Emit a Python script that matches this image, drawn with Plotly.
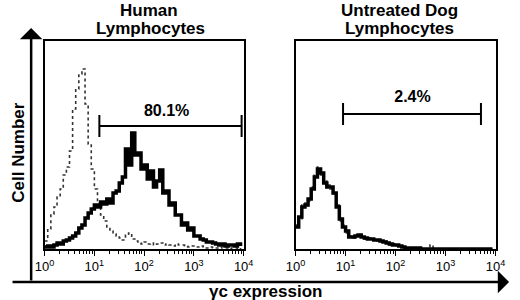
import numpy as np
import plotly.graph_objects as go

# channel counts per bin, 64 bins over four log decades
human_gc = [2, 3, 2, 4, 6, 5, 8, 9, 11, 13,
            16, 21, 24, 31, 36, 40, 44, 42, 47, 45,
            50, 46, 56, 58, 66, 72, 100, 84, 116, 94,
            96, 80, 84, 70, 78, 62, 68, 79, 56, 58,
            44, 46, 34, 34, 24, 26, 19, 21, 13, 13,
            10, 9, 7, 7, 6, 5, 4, 5, 3, 4,
            4, 3, 5, 3]
human_ctrl = [8, 20, 35, 42, 52, 60, 74, 82, 98, 140,
              160, 175, 180, 145, 105, 80, 60, 46, 34, 28,
              22, 18, 15, 13, 11, 9, 14, 16, 10, 8,
              6, 5, 7, 5, 6, 4, 5, 6, 4, 5,
              4, 3, 5, 4, 4, 3, 2, 3, 2, 2,
              3, 2, 1, 2, 1, 1, 2, 1, 1, 0,
              1, 1, 0, 1]
dog_gc = [22, 32, 42, 44, 50, 60, 72, 80, 76, 66,
          62, 62, 56, 42, 30, 22, 18, 12, 12, 13,
          14, 12, 11, 10, 10, 9, 9, 8, 7, 6,
          5, 4, 4, 3, 2, 1, 1, 1, 0, 1,
          0, 0, 0, 0, 0, 0, 0, 0, 0, 0,
          0, 0, 0, 0, 0, 0, 0, 0, 0, 0,
          0, 0, 0, 0]
dog_ctrl = [24, 30, 44, 46, 48, 62, 74, 82, 74, 68,
            64, 60, 54, 44, 28, 24, 16, 13, 11, 14,
            13, 12, 10, 11, 9, 10, 8, 7, 8, 5,
            4, 5, 3, 2, 3, 1, 1, 0, 1, 0,
            0, 0, 0, 4, 0, 0, 0, 0, 0, 0,
            0, 0, 0, 0, 0, 0, 0, 0, 0, 0,
            0, 0, 0, 0]

channels = 10 ** (np.arange(64) / 16)

human_gate = [12.6, 9100]
dog_gate = [8.9, 5100]
human_pct = "80.1%"
dog_pct = "2.4%"
human_label_x = 283
dog_label_x = 218

tick_vals = [1, 10, 100, 1000, 10000]
tick_text = ["10<sup>0</sup>", "10<sup>1</sup>", "10<sup>2</sup>", "10<sup>3</sup>", "10<sup>4</sup>"]
minor_vals = [m * 10 ** d for d in range(4) for m in range(2, 10)]

FONT = "Liberation Sans, Arial, sans-serif"

fig = go.Figure()


def add_panel(xa, ya, gc, ctrl, gate, pct, label_x, gate_y, label_y):
    fig.add_trace(go.Scatter(x=channels, y=ctrl, mode="lines", line_shape="hv",
                             line=dict(color="#333", width=1.6, dash="dot"),
                             xaxis=xa, yaxis=ya, showlegend=False))
    fig.add_trace(go.Scatter(x=channels, y=gc, mode="lines", line_shape="hv",
                             line=dict(color="black", width=3.5),
                             xaxis=xa, yaxis=ya, showlegend=False))
    # gate bar with end caps
    fig.add_trace(go.Scatter(
        x=[gate[0], gate[0], None, gate[0], gate[1], None, gate[1], gate[1]],
        y=[gate_y - 11, gate_y + 11, None, gate_y, gate_y, None, gate_y - 11, gate_y + 11],
        mode="lines", line=dict(color="black", width=2),
        xaxis=xa, yaxis=ya, showlegend=False))
    fig.add_trace(go.Scatter(x=[label_x], y=[label_y], mode="text", text=["<b>%s</b>" % pct],
                             textfont=dict(family=FONT, size=16, color="black"),
                             xaxis=xa, yaxis=ya, showlegend=False))


add_panel("x", "y", human_gc, human_ctrl, human_gate, human_pct, human_label_x, 123, 137)
add_panel("x2", "y2", dog_gc, dog_ctrl, dog_gate, dog_pct, dog_label_x, 135, 151)

xcommon = dict(type="log", range=[0, 4], tickvals=tick_vals, ticktext=tick_text,
               ticks="outside", ticklen=5, tickwidth=1, tickcolor="black",
               minor=dict(tickvals=minor_vals, ticks="outside", ticklen=3, tickcolor="black"),
               showline=True, linecolor="black", linewidth=1.5, mirror=True,
               showgrid=False, zeroline=False,
               tickfont=dict(family=FONT, size=13, color="black"))
ycommon = dict(range=[0, 208], showticklabels=False, ticks="", showgrid=False,
               zeroline=False, showline=True, linecolor="black", linewidth=1.5, mirror=True)

fig.update_layout(
    width=520, height=300,
    margin=dict(l=0, r=0, t=0, b=0),
    paper_bgcolor="white", plot_bgcolor="white",
    xaxis=dict(domain=[36 / 520, 243 / 520], anchor="y", **xcommon),
    yaxis=dict(domain=[51 / 300, 259 / 300], anchor="x", **ycommon),
    xaxis2=dict(domain=[297 / 520, 505 / 520], anchor="y2", **xcommon),
    yaxis2=dict(domain=[51 / 300, 259 / 300], anchor="x2", **ycommon),
)

ann = [
    dict(x=145 / 520, y=1 - 11 / 300, text="<b>Human</b>"),
    dict(x=146 / 520, y=1 - 28 / 300, text="<b>Lymphocytes</b>"),
    dict(x=405 / 520, y=1 - 11 / 300, text="<b>Untreated Dog</b>"),
    dict(x=405 / 520, y=1 - 28 / 300, text="<b>Lymphocytes</b>"),
    dict(x=266 / 520, y=1 - 291 / 300, text="<b>γc expression</b>"),
    dict(x=8 / 520, y=1 - 152 / 300, text="<b>Cell Number</b>", textangle=-90),
]
for a in ann:
    fig.add_annotation(xref="paper", yref="paper", showarrow=False,
                       font=dict(family=FONT, size=17, color="black"),
                       xanchor="center", yanchor="middle", **a)

# outer axis arrows
fig.add_annotation(xref="paper", yref="paper", x=22 / 520, y=1 - 28 / 300,
                   ax=0, ay=254, text="", showarrow=True,
                   arrowhead=1, arrowsize=1.5, arrowwidth=2.5, arrowcolor="black")
fig.add_annotation(xref="paper", yref="paper", x=519 / 520, y=1 - 282 / 300,
                   ax=-498, ay=0, text="", showarrow=True,
                   arrowhead=1, arrowsize=1.5, arrowwidth=2.5, arrowcolor="black")

fig.write_html("out.html", config={"displayModeBar": False},
               post_script="document.documentElement.style.overflow='hidden';"
                           "document.body.style.margin='0';"
                           "document.body.style.overflow='hidden';")
